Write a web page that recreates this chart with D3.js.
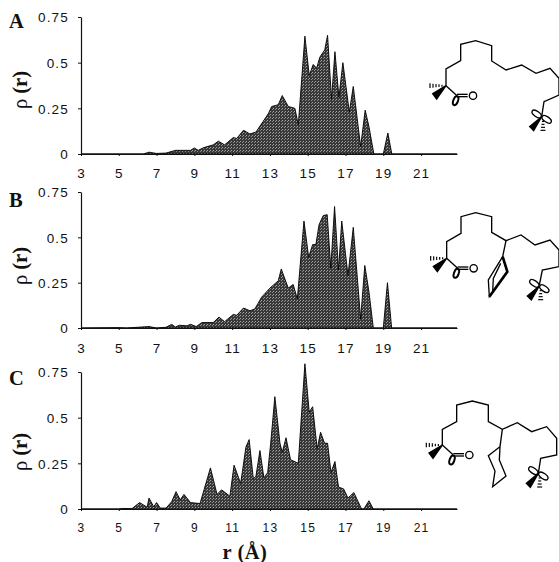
<!DOCTYPE html>
<html>
<head>
<meta charset="utf-8">
<script src="https://cdn.jsdelivr.net/npm/d3@7"></script>
<style>
    html, body {margin: 0; padding: 0; background: #fff;}
    svg {display: block;}
    .tick text {font-family: "Liberation Sans", Arial, sans-serif; fill: #111; letter-spacing: 1.2px;}
    .serif {font-family: "Liberation Serif", serif; font-weight: bold; fill: #111;}
</style>
</head>
<body>
<div id="chart"></div>
<script>
    var rTicks = [3, 5, 7, 9, 11, 13, 15, 17, 19, 21];
    var rhoTicks = [0, 0.25, 0.5, 0.75];
    var rhoTickLabels = ["0", "0.25", "0.5", "0.75"];

    var rA = [3, 6.3, 6.6, 7, 7.5, 8, 8.5, 8.8, 9, 9.2, 9.5, 10, 10.27, 10.6, 11.06, 11.24, 11.6, 11.94, 12.26, 12.65, 12.91, 13.09, 13.44, 13.65, 13.97, 14.32, 14.5, 14.85, 15.08, 15.29, 15.47, 15.64, 15.9, 16.05, 16.26, 16.44, 16.65, 16.86, 17.2, 17.41, 17.8, 18.04, 18.24, 18.5, 19, 19.24, 19.45, 22.9];
    var rhoA = [0, 0, 0.01, 0.003, 0.005, 0.02, 0.02, 0.02, 0.033, 0.02, 0.035, 0.05, 0.07, 0.05, 0.09, 0.085, 0.13, 0.11, 0.12, 0.18, 0.22, 0.26, 0.27, 0.32, 0.26, 0.25, 0.16, 0.645, 0.43, 0.49, 0.47, 0.53, 0.57, 0.65, 0.3, 0.56, 0.31, 0.5, 0.23, 0.37, 0.04, 0.24, 0.15, 0, 0, 0.115, 0, 0];

    var rB = [3, 5, 5.4, 6.6, 7, 7.5, 7.8, 8, 8.2, 8.6, 8.8, 9.1, 9.4, 10, 10.3, 10.6, 11.06, 11.24, 11.6, 11.94, 12.2, 12.56, 13, 13.44, 13.6, 13.97, 14.23, 14.45, 14.8, 15.05, 15.26, 15.43, 15.6, 15.82, 16.03, 16.22, 16.42, 16.63, 16.8, 17.13, 17.41, 17.8, 18.02, 18.24, 18.47, 19, 19.22, 19.44, 22.9];
    var rhoB = [0, 0.002, 0, 0.008, 0, 0.004, 0.02, 0.005, 0.015, 0.012, 0.02, 0.008, 0.03, 0.03, 0.06, 0.035, 0.075, 0.07, 0.11, 0.095, 0.105, 0.17, 0.22, 0.26, 0.325, 0.22, 0.24, 0.16, 0.59, 0.39, 0.46, 0.46, 0.57, 0.62, 0.625, 0.33, 0.67, 0.32, 0.59, 0.29, 0.555, 0.05, 0.345, 0.2, 0, 0, 0.25, 0, 0];

    var rC = [3, 5, 5.2, 5.7, 6.1, 6.5, 6.6, 6.85, 7, 7.2, 7.5, 7.8, 8.03, 8.25, 8.45, 8.8, 9.3, 9.85, 10.2, 10.44, 10.88, 11.1, 11.45, 11.73, 11.9, 12.12, 12.26, 12.47, 12.68, 12.88, 13.04, 13.26, 13.53, 13.65, 13.85, 14.09, 14.5, 14.85, 15.08, 15.26, 15.5, 15.68, 15.89, 16.05, 16.23, 16.44, 16.63, 16.9, 17.13, 17.44, 17.85, 17.97, 18.24, 18.47, 22.9];
    var rhoC = [0, 0, 0.003, 0.002, 0.035, 0.01, 0.06, 0.012, 0.035, 0.005, 0.005, 0.04, 0.095, 0.05, 0.08, 0.035, 0.03, 0.225, 0.08, 0.105, 0.07, 0.24, 0.14, 0.34, 0.38, 0.165, 0.18, 0.32, 0.17, 0.2, 0.36, 0.615, 0.36, 0.31, 0.39, 0.27, 0.25, 0.795, 0.53, 0.56, 0.33, 0.42, 0.36, 0.36, 0.2, 0.26, 0.12, 0.11, 0.06, 0.09, 0, 0, 0.045, 0, 0];

    // molecule drawings, in 3x units relative to each panel's corner
    var chainA = [[108, 197], [108, 147], [152, 122], [152, 73], [197, 62], [245, 77], [245, 123], [288, 150], [335, 135], [378, 160], [420, 145], [447, 175], [447, 225], [402, 245], [395, 290]];
    var chainB = [[110, 175], [110, 125], [153, 100], [153, 50], [197, 38], [245, 50], [245, 97], [288, 122], [333, 105], [375, 135], [420, 120], [447, 150], [447, 200], [397, 210], [388, 255]];
    var chainC = [[97, 165], [97, 118], [140, 95], [140, 45], [187, 33], [235, 45], [235, 95], [277, 118], [322, 98], [365, 125], [410, 110], [440, 145], [440, 195], [392, 205], [385, 250]];
    var ringB = [[288, 122], [278, 170], [292, 215], [238, 290], [235, 240], [278, 170]];
    var ringBInner = [[272, 190], [250, 235], [248, 275], [278, 235]];
    var ringBHeavy = [[278, 170], [292, 215], [238, 290]];
    var ringC = [[277, 118], [270, 170], [235, 197], [255, 243], [248, 290], [288, 258], [268, 210], [270, 170]];

    var margin = {top: 0, left: 81},
        width = 376;

    var svg = d3.select("#chart")
        .append("svg")
        .attr("width", 559)
        .attr("height", 562);

    var pattern = svg.append("defs")
        .append("pattern")
        .attr("id", "stipple")
        .attr("patternUnits", "userSpaceOnUse")
        .attr("width", 3)
        .attr("height", 3);
    pattern.append("rect").attr("width", 3).attr("height", 3).attr("fill", "#383838");
    pattern.append("rect").attr("width", 1).attr("height", 1).attr("fill", "#a8a8a8");
    pattern.append("rect").attr("x", 2).attr("y", 1).attr("width", 1).attr("height", 1).attr("fill", "#8c8c8c");

    var x = d3.scaleLinear().domain([3, 22.9]).range([margin.left, margin.left + width]);

    var panels = [
        {name: "A", r: rA, rho: rhoA, top: 17, base: 154, labelY: 28, ylabelY: 90, pad: 12, xFont: 13.5,
            chain: chainA, origin: [410, 20], ring: [], inner: [], heavy: [], rightLobe: [395, 290]},
        {name: "B", r: rB, rho: rhoB, top: 192, base: 328, labelY: 206.5, ylabelY: 266, pad: 13, xFont: 13.5,
            chain: chainB, origin: [410, 200], ring: ringB, inner: ringBInner, heavy: ringBHeavy, rightLobe: [388, 258]},
        {name: "C", r: rC, rho: rhoC, top: 372, base: 509, labelY: 385, ylabelY: 452, pad: 12, xFont: 12,
            chain: chainC, origin: [410, 390], ring: ringC, inner: [], heavy: [], rightLobe: [385, 250]}
    ];

    panels.forEach(function (p) {
        var y = d3.scaleLinear().domain([0, 0.75]).range([p.base, p.top]);

        var area = d3.area()
            .x(function (d, i) { return x(p.r[i]); })
            .y0(p.base)
            .y1(function (d) { return y(d); });

        svg.append("path")
            .datum(p.rho)
            .attr("d", area)
            .attr("fill", "url(#stipple)")
            .attr("stroke", "#000")
            .attr("stroke-width", 0.9)
            .attr("stroke-linejoin", "miter");

        var xAxis = svg.append("g")
            .attr("transform", "translate(0," + p.base + ")")
            .call(d3.axisBottom(x)
                .tickValues(rTicks)
                .tickSize(2)
                .tickPadding(p.pad)
                .tickSizeOuter(0));
        xAxis.selectAll("text").style("font-size", p.xFont + "px");

        var yAxis = svg.append("g")
            .attr("transform", "translate(" + margin.left + ",0)")
            .call(d3.axisLeft(y)
                .tickValues(rhoTicks)
                .tickSize(3)
                .tickPadding(9)
                .tickSizeOuter(0)
                .tickFormat(function (d, i) { return rhoTickLabels[i]; }));
        yAxis.selectAll("text").style("font-size", "13.5px").attr("dy", "0.36em");

        [xAxis, yAxis].forEach(function (a) {
            a.select(".domain").attr("stroke", "#111").attr("stroke-width", 1.2);
            a.selectAll("line").attr("stroke", "#111").attr("stroke-width", 1);
        });

        svg.append("text")
            .attr("class", "serif")
            .attr("x", 9)
            .attr("y", p.labelY)
            .style("font-size", "20.5px")
            .text(p.name);

        var ylabel = svg.append("text")
            .attr("class", "serif")
            .attr("transform", "translate(27," + p.ylabelY + ") rotate(-90)")
            .attr("text-anchor", "middle")
            .style("font-size", "20.5px");
        ylabel.append("tspan").style("font-weight", "normal").text("ρ");
        ylabel.append("tspan").text(" (r)");

        drawMolecule(p);
    });

    svg.append("text")
        .attr("class", "serif")
        .attr("x", 245)
        .attr("y", 558.5)
        .attr("text-anchor", "middle")
        .style("font-size", "20.5px")
        .style("letter-spacing", "0.5px")
        .text("r (Å)");

    function drawMolecule(p) {
        var g = svg.append("g")
            .attr("transform", "translate(" + p.origin[0] + "," + p.origin[1] + ") scale(" + (1 / 3) + ")")
            .attr("fill", "none")
            .attr("stroke", "#000")
            .attr("stroke-width", 4);

        var line = d3.line();
        var c = p.chain[0];
        var end = p.rightLobe;

        g.append("path").attr("d", line(p.chain));
        if (p.ring.length) g.append("path").attr("d", line(p.ring));
        if (p.inner.length) g.append("path").attr("d", line(p.inner));
        if (p.heavy.length) g.append("path").attr("d", line(p.heavy)).attr("stroke-width", 8);

        // wedge and hashes at the chiral carbon
        g.append("path")
            .attr("d", line([c, [c[0] - 40, c[1] + 24], [c[0] - 28, c[1] + 40]]) + "Z")
            .attr("fill", "#000");
        d3.range(5).forEach(function (i) {
            var h = 6 + i * 2;
            g.append("line")
                .attr("x1", c[0] - 12 - i * 9).attr("x2", c[0] - 12 - i * 9)
                .attr("y1", c[1] - h / 2).attr("y2", c[1] + h / 2)
                .attr("stroke-width", 3.5);
        });

        // carbonyl
        var cx = c[0] + 33, cy = c[1] + 30;
        g.append("path").attr("d", line([c, [cx, cy]]));
        g.append("line").attr("x1", cx).attr("x2", cx + 32).attr("y1", cy - 4).attr("y2", cy - 4);
        g.append("line").attr("x1", cx).attr("x2", cx + 32).attr("y1", cy + 3).attr("y2", cy + 3);
        g.append("circle").attr("cx", cx + 48).attr("cy", cy).attr("r", 11);
        g.append("ellipse")
            .attr("cx", cx - 4).attr("cy", cy + 15)
            .attr("rx", 7).attr("ry", 14)
            .attr("transform", "rotate(20," + (cx - 4) + "," + (cy + 15) + ")")
            .attr("stroke-width", 6);

        // radical lobes at the far end of the chain
        g.append("ellipse")
            .attr("cx", end[0] - 15).attr("cy", end[1] - 8)
            .attr("rx", 16).attr("ry", 8)
            .attr("transform", "rotate(35," + (end[0] - 15) + "," + (end[1] - 8) + ")");
        g.append("ellipse")
            .attr("cx", end[0] + 15).attr("cy", end[1] + 8)
            .attr("rx", 16).attr("ry", 8)
            .attr("transform", "rotate(35," + (end[0] + 15) + "," + (end[1] + 8) + ")");
        g.append("path")
            .attr("d", line([end, [end[0] - 36, end[1] + 30], [end[0] - 24, end[1] + 42]]) + "Z")
            .attr("fill", "#000");
        d3.range(4).forEach(function (i) {
            var w = 6 + i * 3;
            g.append("line")
                .attr("x1", end[0] + 4 - w / 2).attr("x2", end[0] + 4 + w / 2)
                .attr("y1", end[1] + 14 + i * 9).attr("y2", end[1] + 14 + i * 9)
                .attr("stroke-width", 3.5);
        });
    }
</script>
</body>
</html>
